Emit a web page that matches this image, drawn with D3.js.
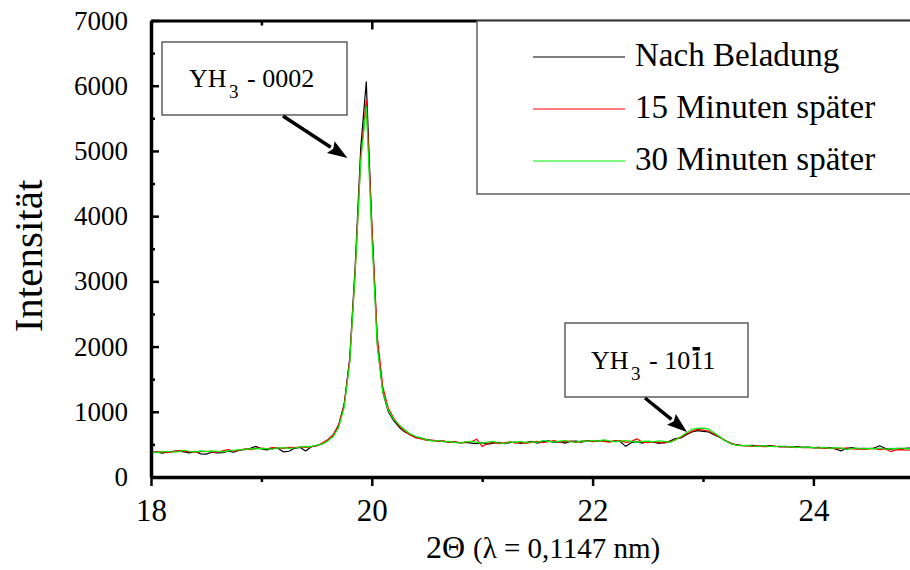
<!DOCTYPE html>
<html>
<head>
<meta charset="utf-8">
<script src="https://cdn.jsdelivr.net/npm/d3@7"></script>
<style>
  html, body { margin: 0; padding: 0; background: #fff; }
  svg { display: block; }
  text { font-family: "Liberation Serif", "Times New Roman", serif; fill: #000; }
</style>
</head>
<body>
<svg id="chart" width="910" height="570"></svg>
<script>
// 2θ sampling grid: 18.00 … 25.00 in 0.05° steps (141 points)
const twoTheta = d3.range(141).map(i => +(18 + i * 0.05).toFixed(2));

// Measured intensities, one row per 0.5°
const nachBeladung = [
  370, 385, 365, 380, 395, 400, 385, 370, 395, 355,
  350, 380, 370, 375, 395, 380, 410, 420, 440, 470,
  430, 415, 445, 440, 385, 395, 440, 455, 400, 460,
  480, 510, 560, 640, 800, 1120, 1820, 3250, 5050, 6060,
  3850, 2050, 1300, 1000, 860, 760, 690, 650, 610, 590,
  575, 560, 555, 545, 535, 540, 525, 530, 520, 510,
  525, 505, 520, 530, 510, 525, 535, 515, 530, 545,
  520, 540, 555, 530, 540, 520, 545, 550, 535, 560,
  545, 550, 560, 540, 555, 545, 470, 525, 540, 520,
  545, 535, 515, 530, 550, 590, 600, 650, 690, 710,
  700, 690, 650, 610, 560, 520, 495, 485, 480, 485,
  475, 470, 480, 470, 465, 470, 460, 465, 455, 460,
  450, 455, 445, 450, 430, 400, 440, 450, 430, 440,
  435, 445, 480, 440, 425, 440, 430, 445, 440, 435,
  440
];
const nach15Min = [
  375, 380, 390, 375, 390, 405, 395, 385, 380, 390,
  395, 385, 380, 400, 420, 395, 410, 430, 420, 440,
  445, 430, 450, 445, 440, 455, 450, 460, 455, 465,
  480, 520, 570, 650, 790, 1100, 1780, 3150, 4900, 5780,
  3900, 2150, 1380, 1050, 900, 780, 700, 640, 600, 585,
  560, 565, 545, 555, 530, 545, 520, 535, 540, 580,
  470, 515, 530, 510, 525, 540, 520, 530, 515, 535,
  545, 525, 540, 560, 535, 545, 550, 530, 545, 555,
  540, 560, 545, 535, 550, 560, 530, 545, 585, 535,
  525, 540, 530, 520, 545, 570, 610, 660, 700, 730,
  720, 705, 660, 615, 560, 515, 490, 480, 475, 470,
  480, 465, 470, 475, 460, 465, 455, 460, 450, 455,
  445, 450, 440, 445, 435, 440, 445, 430, 435, 425,
  430, 440, 420, 430, 390, 415, 420, 410, 425, 420,
  425
];
const nach30Min = [
  380, 375, 385, 395, 380, 390, 410, 395, 385, 400,
  390, 400, 395, 385, 400, 410, 420, 425, 435, 430,
  440, 435, 425, 445, 450, 440, 445, 460, 470, 465,
  490, 505, 550, 620, 760, 1070, 1750, 3150, 4850, 5680,
  3700, 2000, 1300, 1020, 880, 800, 720, 660, 620, 600,
  570, 550, 560, 540, 545, 530, 520, 540, 545, 530,
  520, 535, 545, 525, 510, 540, 530, 545, 525, 540,
  530, 560, 545, 535, 550, 560, 540, 535, 555, 545,
  560, 550, 570, 555, 540, 550, 560, 545, 530, 545,
  550, 540, 555, 545, 530, 570, 620, 680, 730, 745,
  750, 735, 680, 620, 555, 510, 490, 480, 485, 475,
  470, 480, 470, 465, 475, 460, 465, 450, 460, 455,
  450, 445, 455, 440, 450, 445, 420, 440, 445, 435,
  440, 430, 445, 425, 440, 435, 445, 430, 440, 435,
  440
];

const seriesNames  = ["Nach Beladung", "15 Minuten später", "30 Minuten später"];
const seriesValues = [nachBeladung, nach15Min, nach30Min];
const seriesColors = ["#000000", "#ff0000", "#00f000"];

const xMajorTicks = [18, 20, 22, 24];
const xMinorTicks = [19, 21, 23, 25];
const yMajorTicks = [0, 1000, 2000, 3000, 4000, 5000, 6000, 7000];
const yMinorTicks = [500, 1500, 2500, 3500, 4500, 5500, 6500];

// Peak labels: tip of the arrow in data coordinates
const peakLabels = [
  { main: "YH", sub: "3", hkl: "- 0002", barChar: -1, tip: [19.78, 4890] },
  { main: "YH", sub: "3", hkl: "- 1011", barChar: 4, tip: [22.855, 690] }
];

const svg = d3.select("#chart");
const x = d3.scaleLinear().domain([18, 25]).range([151, 923.8]);
const y = d3.scaleLinear().domain([0, 7000]).range([477, 20.5]);

// Data curves
const line = d3.line().x((d, i) => x(twoTheta[i])).y(d => y(d));
const curves = svg.append("g").attr("class", "curves");
seriesValues.forEach((vals, k) => {
  curves.append("path")
    .datum(vals)
    .attr("fill", "none")
    .attr("stroke", seriesColors[k])
    .attr("stroke-width", 1.2)
    .attr("stroke-linejoin", "round")
    .attr("d", line);
});

// Axes
function styleAxis(g, width) {
  g.select(".domain").attr("stroke", "#000").attr("stroke-width", width);
  g.selectAll(".tick line").attr("stroke", "#000").attr("stroke-width", 2.5);
}

const bottomMajor = svg.append("g").attr("transform", `translate(0,${y(0)})`)
  .call(d3.axisBottom(x).tickValues(xMajorTicks).tickSize(9).tickSizeOuter(0).tickPadding(13).tickFormat(d3.format("d")));
styleAxis(bottomMajor, 3.5);
bottomMajor.selectAll(".tick text").attr("font-size", 31).attr("font-family", "Liberation Serif");
svg.append("g").attr("transform", `translate(0,${y(0)})`)
  .call(d3.axisBottom(x).tickValues(xMinorTicks).tickSize(5).tickFormat(""))
  .call(g => { g.select(".domain").remove(); g.selectAll(".tick line").attr("stroke", "#000").attr("stroke-width", 2.5); });

const topMajor = svg.append("g").attr("transform", `translate(0,${y(7000)})`)
  .call(d3.axisTop(x).tickValues(xMajorTicks).tickSize(-9).tickSizeOuter(0).tickFormat(""));
styleAxis(topMajor, 3);
svg.append("g").attr("transform", `translate(0,${y(7000)})`)
  .call(d3.axisTop(x).tickValues(xMinorTicks).tickSize(-5).tickFormat(""))
  .call(g => { g.select(".domain").remove(); g.selectAll(".tick line").attr("stroke", "#000").attr("stroke-width", 2.5); });

const leftMajor = svg.append("g").attr("transform", `translate(${x(18)},0)`)
  .call(d3.axisLeft(y).tickValues(yMajorTicks).tickSize(-8).tickSizeOuter(0).tickPadding(23).tickFormat(d3.format("d")));
styleAxis(leftMajor, 3.5);
leftMajor.selectAll(".tick text").attr("font-size", 27).attr("font-family", "Liberation Serif");
svg.append("g").attr("transform", `translate(${x(18)},0)`)
  .call(d3.axisLeft(y).tickValues(yMinorTicks).tickSize(-4).tickFormat(""))
  .call(g => { g.select(".domain").remove(); g.selectAll(".tick line").attr("stroke", "#000").attr("stroke-width", 2.5); });

// Axis titles
svg.append("text")
  .attr("transform", `translate(42,${256}) rotate(-90)`)
  .attr("text-anchor", "middle")
  .attr("font-size", 41)
  .text("Intensität");

const xTitle = svg.append("text").attr("x", 426).attr("y", 558);
xTitle.append("tspan").attr("font-size", 32).text("2Θ");
xTitle.append("tspan").attr("x", 473).attr("font-size", 29).text("(λ = 0,1147 nm)");

// Legend
const legend = svg.append("g");
legend.append("rect")
  .attr("x", 477).attr("y", 21).attr("width", 460).attr("height", 173)
  .attr("fill", "#fff").attr("stroke", "#555").attr("stroke-width", 1.4);
seriesNames.forEach((name, k) => {
  const ly = 57 + k * 52;
  legend.append("line")
    .attr("x1", 533).attr("x2", 625).attr("y1", ly).attr("y2", ly)
    .attr("stroke", seriesColors[k]).attr("stroke-width", 1.2);
  legend.append("text")
    .attr("x", 635).attr("y", ly + 9)
    .attr("font-size", 33)
    .text(name);
});

// Peak annotations: box with label, arrow pointing at the reflection
const boxes = [
  { x0: 162, y0: 42, w: 185, h: 73, tx: 189, ty: 87, from: [283, 116] },
  { x0: 565, y0: 323, w: 183, h: 74, tx: 591, ty: 369, from: [645, 398] }
];
peakLabels.forEach((p, k) => {
  const b = boxes[k];
  const g = svg.append("g");
  g.append("rect")
    .attr("x", b.x0).attr("y", b.y0).attr("width", b.w).attr("height", b.h)
    .attr("fill", "#fff").attr("stroke", "#444").attr("stroke-width", 1.3);
  const t = g.append("text").attr("x", b.tx).attr("y", b.ty).attr("font-size", 26);
  t.append("tspan").text(p.main);
  t.append("tspan").attr("x", b.tx + 40).attr("dy", 11).attr("font-size", 19).text(p.sub);
  const hk = t.append("tspan").attr("x", b.tx + 58).attr("dy", -11).text(p.hkl);
  if (p.barChar >= 0) {
    const node = t.node();
    const idx = p.main.length + p.sub.length + p.barChar;
    const ext = node.getExtentOfChar(idx);
    g.append("rect")
      .attr("x", ext.x + ext.width * 0.2).attr("y", ext.y + 1)
      .attr("width", ext.width * 0.6).attr("height", 3.5)
      .attr("fill", "#000");
  }
  // arrow
  const tx = x(p.tip[0]), ty = y(p.tip[1]);
  const [fx, fy] = b.from;
  const ang = Math.atan2(ty - fy, tx - fx);
  const headLen = 20, headW = 7;
  const bx = tx - headLen * Math.cos(ang), by = ty - headLen * Math.sin(ang);
  g.append("line")
    .attr("x1", fx).attr("y1", fy).attr("x2", bx).attr("y2", by)
    .attr("stroke", "#000").attr("stroke-width", 3.5);
  const px = -Math.sin(ang), py = Math.cos(ang);
  g.append("path")
    .attr("d", `M${tx},${ty} L${bx + px * headW},${by + py * headW} L${bx + (tx - bx) * 0.15},${by + (ty - by) * 0.15} L${bx - px * headW},${by - py * headW} Z`)
    .attr("fill", "#000");
});
</script>
</body>
</html>
